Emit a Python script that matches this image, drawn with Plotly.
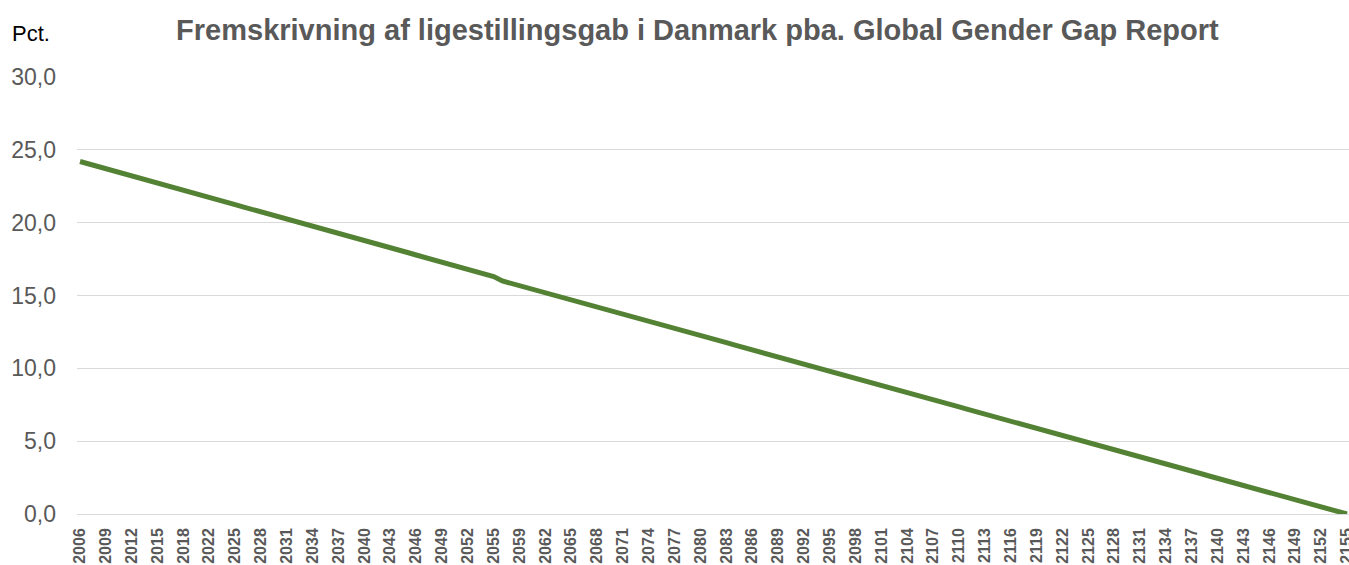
import plotly.graph_objects as go

# Categories (years; 2019 and 2056 are not in the series)
years = [str(y) for y in list(range(2006, 2019)) + list(range(2020, 2056)) + list(range(2057, 2156))]

# Gender gap (pct.)
gap_part1 = [24.20, 24.04, 23.87, 23.71, 23.54, 23.38, 23.21, 23.05, 22.88, 22.72,
             22.55, 22.39, 22.22, 22.06, 21.90, 21.73, 21.57, 21.40, 21.24, 21.07,
             20.91, 20.74, 20.58, 20.41, 20.25, 20.09, 19.92, 19.76, 19.59, 19.43,
             19.26, 19.10, 18.93, 18.77, 18.60, 18.44, 18.28, 18.11, 17.95, 17.78,
             17.62, 17.45, 17.29, 17.12, 16.96, 16.79, 16.63, 16.46, 16.30]
gap_part2 = [16.00, 15.84, 15.67, 15.51, 15.35, 15.18, 15.02, 14.86, 14.69, 14.53,
             14.37, 14.20, 14.04, 13.88, 13.71, 13.55, 13.39, 13.22, 13.06, 12.90,
             12.73, 12.57, 12.41, 12.24, 12.08, 11.92, 11.76, 11.59, 11.43, 11.27,
             11.10, 10.94, 10.78, 10.61, 10.45, 10.29, 10.12, 9.96, 9.80, 9.63,
             9.47, 9.31, 9.14, 8.98, 8.82, 8.65, 8.49, 8.33, 8.16, 8.00,
             7.84, 7.67, 7.51, 7.35, 7.18, 7.02, 6.86, 6.69, 6.53, 6.37,
             6.20, 6.04, 5.88, 5.71, 5.55, 5.39, 5.22, 5.06, 4.90, 4.73,
             4.57, 4.41, 4.24, 4.08, 3.92, 3.76, 3.59, 3.43, 3.27, 3.10,
             2.94, 2.78, 2.61, 2.45, 2.29, 2.12, 1.96, 1.80, 1.63, 1.47,
             1.31, 1.14, 0.98, 0.82, 0.65, 0.49, 0.33, 0.16, 0.00]
gap = gap_part1 + gap_part2

y_ticks = [0, 5, 10, 15, 20, 25, 30]
title_text = "Fremskrivning af ligestillingsgab i Danmark pba. Global Gender Gap Report"
unit_text = "Pct."

FONT = "Liberation Sans, Arial, sans-serif"
GREY = "#595959"

fig = go.Figure()
fig.add_trace(go.Scatter(
    x=years, y=gap, mode="lines",
    line=dict(color="#548235", width=5),
    showlegend=False, hoverinfo="x+y",
))

fig.update_layout(
    width=1349, height=565,
    margin=dict(l=77, r=0, t=77, b=51, autoexpand=False),
    paper_bgcolor="white", plot_bgcolor="white",
    separators=",.",
    font=dict(family=FONT, color=GREY),
    title=dict(text=f"<b>{title_text}</b>", x=0.517, xref="container", xanchor="center",
               y=0.947, yref="container", yanchor="middle",
               font=dict(family=FONT, size=29, color=GREY)),
    xaxis=dict(type="category", categoryorder="array", categoryarray=years,
               range=[-0.348, 147.23], automargin=False,
               tickmode="array", tickvals=years[::3], ticktext=[f"<b>{t}</b>" for t in years[::3]],
               tickangle=-90, tickfont=dict(family=FONT, size=16, color=GREY),
               showgrid=False, showline=False, ticks="", ticklabelstandoff=10),
    yaxis=dict(range=[0, 30], tickvals=y_ticks, tickformat=".1f", automargin=False,
               tickfont=dict(family=FONT, size=23, color=GREY),
               showgrid=True, gridcolor="#d9d9d9", gridwidth=1,
               zeroline=True, zerolinecolor="#d9d9d9", zerolinewidth=1,
               showline=False, ticks="", ticklabelstandoff=20),
    annotations=[dict(text=unit_text, xref="paper", yref="paper",
                      x=-0.0527, y=1.10, xanchor="left", yanchor="middle",
                      showarrow=False, font=dict(family=FONT, size=22, color="#000000"))],
)

fig.write_html("out.html", config={"displayModeBar": False},
               post_script="document.body.style.margin='0';")
